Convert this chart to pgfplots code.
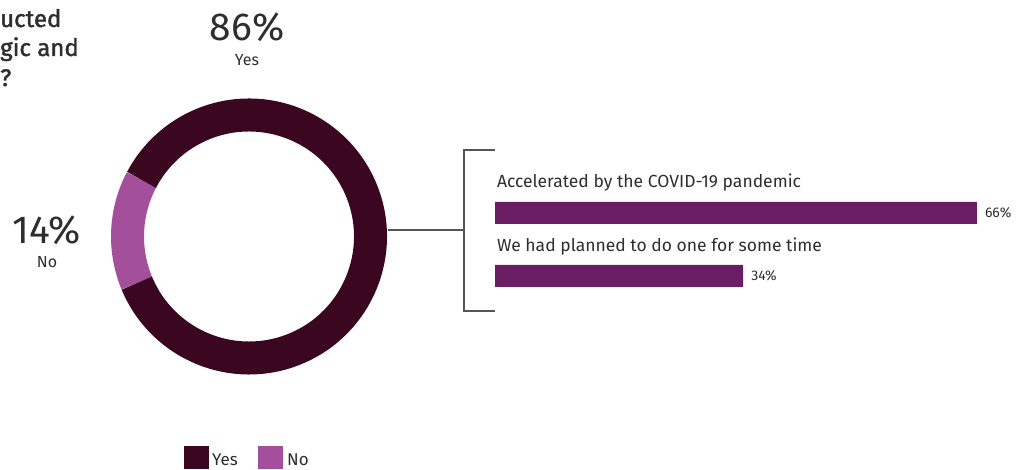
\documentclass[border=0pt]{standalone}
\usepackage{pgfplots}
\usepackage{pgfplotstable}
\pgfplotsset{compat=1.18}
\usepackage{fontspec}
\setmainfont{Fira Sans}
\newfontfamily\titlefont[FakeBold=1.6]{Fira Sans}
\definecolor{yescol}{HTML}{3A0620}
\definecolor{nocol}{HTML}{A34F9B}
\definecolor{barcol}{HTML}{6A1D62}
\definecolor{txt}{HTML}{2E2E2E}
\definecolor{linecol}{HTML}{555555}

\pgfplotstableread{
label share
Yes 86
No 14
}\donutdata

\pgfplotstableread{
value pos
66 1
34 0
}\bardata

\begin{document}
\begin{tikzpicture}[font=\color{txt}]
\pgfplotstablegetelem{0}{share}\of\donutdata \let\yesshare\pgfplotsretval
\pgfplotstablegetelem{1}{share}\of\donutdata \let\noshare\pgfplotsretval
\pgfmathsetmacro{\nostart}{177.4-\noshare*1.8}
\pgfmathsetmacro{\noend}{177.4+\noshare*1.8}
\pgfmathsetmacro{\yesend}{\noend+\yesshare*3.6}
% main canvas axis: 1 unit = 1pt = 1 px of the reference
\begin{axis}[
  scale only axis, width=1028pt, height=470pt,
  xmin=0, xmax=1028, ymin=0, ymax=470,
  hide axis, clip=false,
]
\path (axis cs:0,0) rectangle (axis cs:1028,470);
% donut
\draw[line width=33pt, nocol] (axis cs:249,233.5) ++(\nostart:121.5) arc[start angle=\nostart, end angle=\noend, radius=121.5];
\draw[line width=33pt, yescol] (axis cs:249,233.5) ++(\noend:121.5) arc[start angle=\noend, end angle=\yesend, radius=121.5];
% labels
\node[anchor=base, font=\fontsize{39}{39}\selectfont\color{txt}] at (axis cs:247,429) {86\%};
\node[anchor=base, font=\fontsize{16}{16}\selectfont\color{txt}] at (axis cs:247,404) {Yes};
\node[anchor=base, font=\fontsize{39}{39}\selectfont\color{txt}] at (axis cs:47,226) {14\%};
\node[anchor=base, font=\fontsize{16}{16}\selectfont\color{txt}] at (axis cs:47,202) {No};
% title fragments
\node[anchor=base west, inner sep=0, font=\titlefont\fontsize{24}{24}\selectfont\color{txt}] at (axis cs:0,443) {ucted};
\node[anchor=base west, inner sep=0, font=\titlefont\fontsize{24}{24}\selectfont\color{txt}] at (axis cs:0,414) {gic and};
\node[anchor=base west, inner sep=0, font=\titlefont\fontsize{24}{24}\selectfont\color{txt}] at (axis cs:0,384) {?};
% bracket
\draw[linecol, line width=1.3pt] (axis cs:388,240) -- (axis cs:464,240);
\draw[linecol, line width=1.3pt] (axis cs:495,320) -- (axis cs:464,320) -- (axis cs:464,159) -- (axis cs:495,159);
% legend
\fill[yescol] (axis cs:184,1) rectangle (axis cs:209,24);
\node[anchor=base west, inner sep=0, font=\fontsize{17}{17}\selectfont\color{txt}] at (axis cs:212,4) {Yes};
\fill[nocol] (axis cs:258,1) rectangle (axis cs:283,24);
\node[anchor=base west, inner sep=0, font=\fontsize{17}{17}\selectfont\color{txt}] at (axis cs:287,4) {No};
\end{axis}
% bar axis
\begin{axis}[
  at={(495pt,131pt)}, anchor=south west,
  scale only axis, width=511pt, height=189pt,
  xmin=0, xmax=70, ymin=-1, ymax=2,
  hide axis, clip=false,
  xbar, bar width=22pt, bar shift=0pt,
  /pgf/number format/assume math mode=true,
  nodes near coords={\pgfmathprintnumber{\pgfplotspointmeta}\%},
  point meta=x,
  every node near coord/.append style={anchor=west, inner sep=0pt, xshift=8pt, font=\fontsize{14}{14}\selectfont\color{txt}},
]
\addplot[fill=barcol, draw=none] table[x=value, y=pos] {\bardata};
\node[anchor=base west, inner sep=0, font=\fontsize{17.5}{17.5}\selectfont\color{txt}] at (axis cs:0.25,1.40) {Accelerated by the COVID-19 pandemic};
\node[anchor=base west, inner sep=0, font=\fontsize{17.5}{17.5}\selectfont\color{txt}] at (axis cs:0.25,0.39) {We had planned to do one for some time};
\end{axis}
\end{tikzpicture}
\end{document}
